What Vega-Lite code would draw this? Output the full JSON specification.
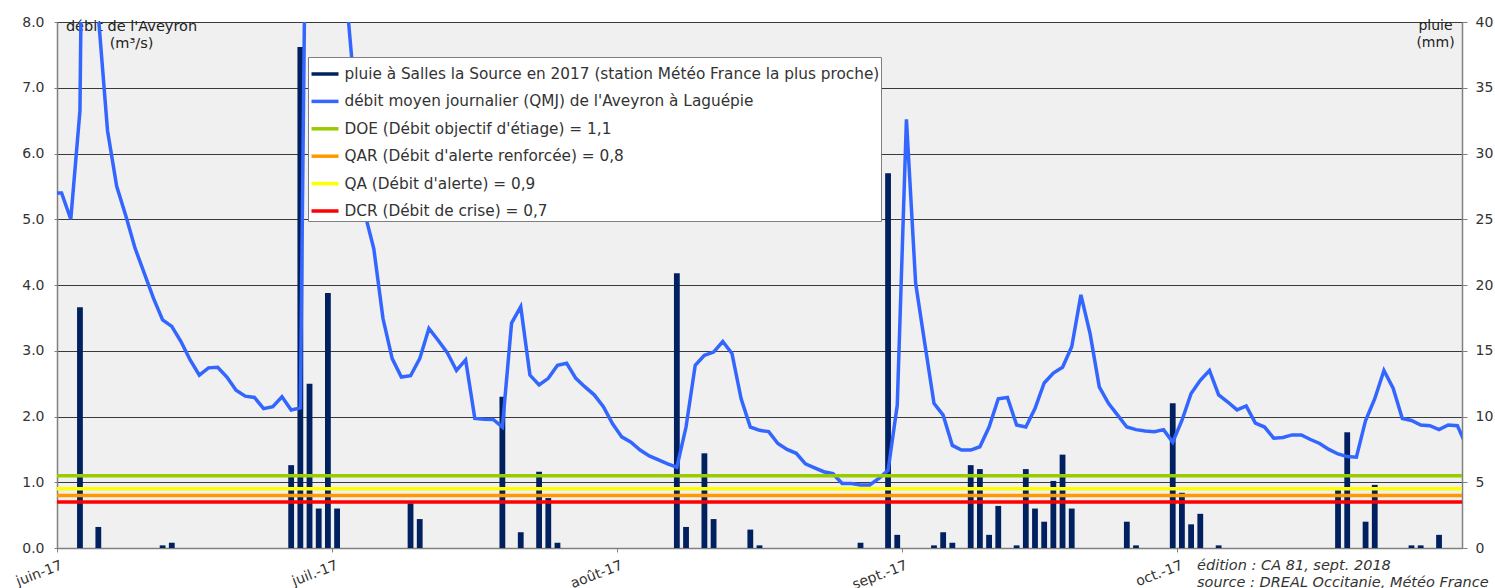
{
  "$schema": "https://vega.github.io/schema/vega-lite/v6.json",
  "width": 1405,
  "height": 526,
  "autosize": {"type": "none"},
  "padding": {"left": 57, "top": 22, "right": 33, "bottom": 40},
  "background": "white",
  "config": {
    "font": "DejaVu Sans",
    "view": {"fill": "#f0f0f0", "stroke": "#808080", "strokeWidth": 1}
  },
  "datasets": {
    "pluie": [
      {"date": "2017-06-03", "mm": 18.3}, {"date": "2017-06-05", "mm": 1.6}, {"date": "2017-06-12", "mm": 0.2}, {"date": "2017-06-13", "mm": 0.4},
      {"date": "2017-06-26", "mm": 6.3}, {"date": "2017-06-27", "mm": 38.1}, {"date": "2017-06-28", "mm": 12.5}, {"date": "2017-06-29", "mm": 3.0},
      {"date": "2017-06-30", "mm": 19.4}, {"date": "2017-07-01", "mm": 3.0}, {"date": "2017-07-09", "mm": 3.4}, {"date": "2017-07-10", "mm": 2.2},
      {"date": "2017-07-19", "mm": 11.5}, {"date": "2017-07-21", "mm": 1.2}, {"date": "2017-07-23", "mm": 5.8}, {"date": "2017-07-24", "mm": 3.8},
      {"date": "2017-07-25", "mm": 0.4}, {"date": "2017-08-07", "mm": 20.9}, {"date": "2017-08-08", "mm": 1.6}, {"date": "2017-08-10", "mm": 7.2},
      {"date": "2017-08-11", "mm": 2.2}, {"date": "2017-08-15", "mm": 1.4}, {"date": "2017-08-16", "mm": 0.2}, {"date": "2017-08-27", "mm": 0.4},
      {"date": "2017-08-30", "mm": 28.5}, {"date": "2017-08-31", "mm": 1.0}, {"date": "2017-09-04", "mm": 0.2}, {"date": "2017-09-05", "mm": 1.2},
      {"date": "2017-09-06", "mm": 0.4}, {"date": "2017-09-08", "mm": 6.3}, {"date": "2017-09-09", "mm": 6.0}, {"date": "2017-09-10", "mm": 1.0},
      {"date": "2017-09-11", "mm": 3.2}, {"date": "2017-09-13", "mm": 0.2}, {"date": "2017-09-14", "mm": 6.0}, {"date": "2017-09-15", "mm": 3.0},
      {"date": "2017-09-16", "mm": 2.0}, {"date": "2017-09-17", "mm": 5.1}, {"date": "2017-09-18", "mm": 7.1}, {"date": "2017-09-19", "mm": 3.0},
      {"date": "2017-09-25", "mm": 2.0}, {"date": "2017-09-26", "mm": 0.2}, {"date": "2017-09-30", "mm": 11.0}, {"date": "2017-10-01", "mm": 4.2},
      {"date": "2017-10-02", "mm": 1.8}, {"date": "2017-10-03", "mm": 2.6}, {"date": "2017-10-05", "mm": 0.2}, {"date": "2017-10-18", "mm": 4.4},
      {"date": "2017-10-19", "mm": 8.8}, {"date": "2017-10-21", "mm": 2.0}, {"date": "2017-10-22", "mm": 4.8}, {"date": "2017-10-26", "mm": 0.2},
      {"date": "2017-10-27", "mm": 0.2}, {"date": "2017-10-29", "mm": 1.0}
    ],
    "debit": [
      {"date": "2017-05-31", "qmj": 5.4}, {"date": "2017-06-01", "qmj": 5.4}, {"date": "2017-06-02", "qmj": 5.0}, {"date": "2017-06-03", "qmj": 6.65},
      {"date": "2017-06-04", "qmj": 20}, {"date": "2017-06-05", "qmj": 8.1}, {"date": "2017-06-06", "qmj": 6.35}, {"date": "2017-06-07", "qmj": 5.5},
      {"date": "2017-06-08", "qmj": 5.05}, {"date": "2017-06-09", "qmj": 4.56}, {"date": "2017-06-10", "qmj": 4.18}, {"date": "2017-06-11", "qmj": 3.8},
      {"date": "2017-06-12", "qmj": 3.47}, {"date": "2017-06-13", "qmj": 3.37}, {"date": "2017-06-14", "qmj": 3.14}, {"date": "2017-06-15", "qmj": 2.86},
      {"date": "2017-06-16", "qmj": 2.63}, {"date": "2017-06-17", "qmj": 2.74}, {"date": "2017-06-18", "qmj": 2.75}, {"date": "2017-06-19", "qmj": 2.6},
      {"date": "2017-06-20", "qmj": 2.4}, {"date": "2017-06-21", "qmj": 2.31}, {"date": "2017-06-22", "qmj": 2.29}, {"date": "2017-06-23", "qmj": 2.12},
      {"date": "2017-06-24", "qmj": 2.15}, {"date": "2017-06-25", "qmj": 2.3}, {"date": "2017-06-26", "qmj": 2.1}, {"date": "2017-06-27", "qmj": 2.13},
      {"date": "2017-06-28", "qmj": 15.5}, {"date": "2017-06-29", "qmj": 13}, {"date": "2017-06-30", "qmj": 10.5}, {"date": "2017-07-01", "qmj": 9.3},
      {"date": "2017-07-02", "qmj": 8.4}, {"date": "2017-07-03", "qmj": 6.8}, {"date": "2017-07-04", "qmj": 5.1}, {"date": "2017-07-05", "qmj": 4.55},
      {"date": "2017-07-06", "qmj": 3.49}, {"date": "2017-07-07", "qmj": 2.88}, {"date": "2017-07-08", "qmj": 2.6}, {"date": "2017-07-09", "qmj": 2.62},
      {"date": "2017-07-10", "qmj": 2.88}, {"date": "2017-07-11", "qmj": 3.34}, {"date": "2017-07-12", "qmj": 3.16}, {"date": "2017-07-13", "qmj": 2.97},
      {"date": "2017-07-14", "qmj": 2.7}, {"date": "2017-07-15", "qmj": 2.86}, {"date": "2017-07-16", "qmj": 1.97}, {"date": "2017-07-17", "qmj": 1.96},
      {"date": "2017-07-18", "qmj": 1.955}, {"date": "2017-07-19", "qmj": 1.84}, {"date": "2017-07-20", "qmj": 3.42}, {"date": "2017-07-21", "qmj": 3.67},
      {"date": "2017-07-22", "qmj": 2.63}, {"date": "2017-07-23", "qmj": 2.48}, {"date": "2017-07-24", "qmj": 2.58}, {"date": "2017-07-25", "qmj": 2.78},
      {"date": "2017-07-26", "qmj": 2.81}, {"date": "2017-07-27", "qmj": 2.58}, {"date": "2017-07-28", "qmj": 2.45}, {"date": "2017-07-29", "qmj": 2.33},
      {"date": "2017-07-30", "qmj": 2.15}, {"date": "2017-07-31", "qmj": 1.89}, {"date": "2017-08-01", "qmj": 1.69}, {"date": "2017-08-02", "qmj": 1.61},
      {"date": "2017-08-03", "qmj": 1.49}, {"date": "2017-08-04", "qmj": 1.4}, {"date": "2017-08-05", "qmj": 1.34}, {"date": "2017-08-06", "qmj": 1.28},
      {"date": "2017-08-07", "qmj": 1.23}, {"date": "2017-08-08", "qmj": 1.84}, {"date": "2017-08-09", "qmj": 2.78}, {"date": "2017-08-10", "qmj": 2.93},
      {"date": "2017-08-11", "qmj": 2.98}, {"date": "2017-08-12", "qmj": 3.14}, {"date": "2017-08-13", "qmj": 2.96}, {"date": "2017-08-14", "qmj": 2.27},
      {"date": "2017-08-15", "qmj": 1.84}, {"date": "2017-08-16", "qmj": 1.79}, {"date": "2017-08-17", "qmj": 1.77}, {"date": "2017-08-18", "qmj": 1.59},
      {"date": "2017-08-19", "qmj": 1.5}, {"date": "2017-08-20", "qmj": 1.44}, {"date": "2017-08-21", "qmj": 1.28}, {"date": "2017-08-22", "qmj": 1.22},
      {"date": "2017-08-23", "qmj": 1.16}, {"date": "2017-08-24", "qmj": 1.13}, {"date": "2017-08-25", "qmj": 0.98}, {"date": "2017-08-26", "qmj": 0.98},
      {"date": "2017-08-27", "qmj": 0.96}, {"date": "2017-08-28", "qmj": 0.96}, {"date": "2017-08-29", "qmj": 1.06}, {"date": "2017-08-30", "qmj": 1.18},
      {"date": "2017-08-31", "qmj": 2.17}, {"date": "2017-09-01", "qmj": 6.52}, {"date": "2017-09-02", "qmj": 4.03}, {"date": "2017-09-03", "qmj": 3.11},
      {"date": "2017-09-04", "qmj": 2.2}, {"date": "2017-09-05", "qmj": 2.02}, {"date": "2017-09-06", "qmj": 1.56}, {"date": "2017-09-07", "qmj": 1.49},
      {"date": "2017-09-08", "qmj": 1.49}, {"date": "2017-09-09", "qmj": 1.54}, {"date": "2017-09-10", "qmj": 1.84}, {"date": "2017-09-11", "qmj": 2.27},
      {"date": "2017-09-12", "qmj": 2.29}, {"date": "2017-09-13", "qmj": 1.87}, {"date": "2017-09-14", "qmj": 1.84}, {"date": "2017-09-15", "qmj": 2.12},
      {"date": "2017-09-16", "qmj": 2.51}, {"date": "2017-09-17", "qmj": 2.66}, {"date": "2017-09-18", "qmj": 2.75}, {"date": "2017-09-19", "qmj": 3.06},
      {"date": "2017-09-20", "qmj": 3.85}, {"date": "2017-09-21", "qmj": 3.26}, {"date": "2017-09-22", "qmj": 2.45}, {"date": "2017-09-23", "qmj": 2.2},
      {"date": "2017-09-24", "qmj": 2.02}, {"date": "2017-09-25", "qmj": 1.84}, {"date": "2017-09-26", "qmj": 1.8}, {"date": "2017-09-27", "qmj": 1.78},
      {"date": "2017-09-28", "qmj": 1.77}, {"date": "2017-09-29", "qmj": 1.8}, {"date": "2017-09-30", "qmj": 1.61}, {"date": "2017-10-01", "qmj": 1.94},
      {"date": "2017-10-02", "qmj": 2.35}, {"date": "2017-10-03", "qmj": 2.55}, {"date": "2017-10-04", "qmj": 2.7}, {"date": "2017-10-05", "qmj": 2.33},
      {"date": "2017-10-06", "qmj": 2.22}, {"date": "2017-10-07", "qmj": 2.1}, {"date": "2017-10-08", "qmj": 2.16}, {"date": "2017-10-09", "qmj": 1.9},
      {"date": "2017-10-10", "qmj": 1.84}, {"date": "2017-10-11", "qmj": 1.67}, {"date": "2017-10-12", "qmj": 1.68}, {"date": "2017-10-13", "qmj": 1.72},
      {"date": "2017-10-14", "qmj": 1.72}, {"date": "2017-10-15", "qmj": 1.65}, {"date": "2017-10-16", "qmj": 1.59}, {"date": "2017-10-17", "qmj": 1.5},
      {"date": "2017-10-18", "qmj": 1.43}, {"date": "2017-10-19", "qmj": 1.39}, {"date": "2017-10-20", "qmj": 1.38}, {"date": "2017-10-21", "qmj": 1.94},
      {"date": "2017-10-22", "qmj": 2.27}, {"date": "2017-10-23", "qmj": 2.7}, {"date": "2017-10-24", "qmj": 2.43}, {"date": "2017-10-25", "qmj": 1.97},
      {"date": "2017-10-26", "qmj": 1.94}, {"date": "2017-10-27", "qmj": 1.87}, {"date": "2017-10-28", "qmj": 1.86}, {"date": "2017-10-29", "qmj": 1.8},
      {"date": "2017-10-30", "qmj": 1.87}, {"date": "2017-10-31", "qmj": 1.86}, {"date": "2017-11-01", "qmj": 1.55}
    ],
    "seuils": [
      {"seuil": "DOE (Débit objectif d'étiage) = 1,1", "valeur": 1.1},
      {"seuil": "QAR (Débit d'alerte renforcée) = 0,8", "valeur": 0.8},
      {"seuil": "QA (Débit d'alerte) = 0,9", "valeur": 0.9},
      {"seuil": "DCR (Débit de crise) = 0,7", "valeur": 0.7}
    ]
  },
  "resolve": {"scale": {"y": "independent"}, "axis": {"y": "independent"}},
  "layer": [
    {
      "data": {"name": "pluie"},
      "mark": {"type": "bar", "size": 5.8},
      "encoding": {
        "x": {
          "field": "date", "type": "temporal", "timeUnit": "utcyearmonthdate", "bandPosition": 0.5,
          "scale": {"type": "utc", "domain": [{"year": 2017, "month": 6, "date": 1, "utc": true}, {"year": 2017, "month": 11, "date": 1, "utc": true}]},
          "axis": {
            "values": [
              {"year": 2017, "month": 6, "date": 1, "utc": true},
              {"year": 2017, "month": 7, "date": 1, "utc": true},
              {"year": 2017, "month": 8, "date": 1, "utc": true},
              {"year": 2017, "month": 9, "date": 1, "utc": true},
              {"year": 2017, "month": 10, "date": 1, "utc": true}
            ],
            "labelExpr": "['janv.','févr.','mars','avr.','mai','juin','juil.','août','sept.','oct.','nov.','déc.'][utcmonth(datum.value)] + '-17'",
            "labelAngle": -21, "labelFontSize": 14, "labelColor": "#333333", "labelPadding": 6, "labelOffset": 2,
            "labelFlush": false, "labelOverlap": false,
            "tickSize": 4, "tickColor": "#808080", "domainColor": "#808080", "domainWidth": 1.5, "grid": false,
            "title": ["édition : CA 81, sept. 2018", "source : DREAL Occitanie, Météo France"],
            "titleX": 1139.5, "titleY": 21.5, "titleAlign": "left", "titleBaseline": "alphabetic", "titleAngle": 0,
            "titleFontStyle": "italic", "titleFontWeight": "normal", "titleFontSize": 14.5, "titleLineHeight": 16.5, "titleColor": "#333333"
          }
        },
        "y": {
          "field": "mm", "type": "quantitative",
          "scale": {"domain": [0, 40]},
          "axis": {
            "orient": "right", "values": [0, 5, 10, 15, 20, 25, 30, 35, 40], "grid": false,
            "labelFontSize": 14, "labelColor": "#333333", "labelPadding": 8,
            "tickSize": 5, "tickColor": "#808080", "domainColor": "#808080", "domainWidth": 1.5,
            "title": ["pluie", "(mm)"], "titleAngle": 0, "titleX": -27, "titleY": 7, "titleAlign": "center", "titleBaseline": "alphabetic",
            "titleFontWeight": "normal", "titleFontSize": 14, "titleLineHeight": 17, "titleColor": "#222222"
          }
        },
        "color": {"datum": "pluie à Salles la Source en 2017 (station Météo France la plus proche)", "type": "nominal", "title": null}
      }
    },
    {
      "layer": [
        {
          "data": {"name": "debit"},
          "mark": {"type": "line", "strokeWidth": 3.5, "clip": true},
          "encoding": {
            "x": {"field": "date", "type": "temporal", "timeUnit": "utcyearmonthdate", "bandPosition": 0.5},
            "y": {
              "field": "qmj", "type": "quantitative",
              "scale": {"domain": [0, 8]},
              "axis": {
                "orient": "left", "values": [0, 1, 2, 3, 4, 5, 6, 7, 8], "format": ".1f",
                "grid": true, "gridColor": "#3a3a3a", "gridWidth": 1,
                "labelFontSize": 14, "labelColor": "#333333", "labelPadding": 10,
                "tickSize": 3, "tickColor": "#808080", "domainColor": "#808080", "domainWidth": 1.5,
                "title": ["débit de l'Aveyron", "(m³/s)"], "titleAngle": 0, "titleX": 74, "titleY": 8, "titleAlign": "center", "titleBaseline": "alphabetic",
                "titleFontWeight": "normal", "titleFontSize": 14.5, "titleLineHeight": 17, "titleColor": "#222222"
              }
            },
            "color": {"datum": "débit moyen journalier (QMJ) de l'Aveyron à Laguépie", "type": "nominal", "title": null}
          }
        },
        {
          "data": {"name": "seuils"},
          "mark": {"type": "rule", "strokeWidth": 3.5},
          "encoding": {
            "y": {"field": "valeur", "type": "quantitative"},
            "color": {
              "field": "seuil", "type": "nominal", "title": null,
              "scale": {
                "domain": [
                  "pluie à Salles la Source en 2017 (station Météo France la plus proche)",
                  "débit moyen journalier (QMJ) de l'Aveyron à Laguépie",
                  "DOE (Débit objectif d'étiage) = 1,1",
                  "QAR (Débit d'alerte renforcée) = 0,8",
                  "QA (Débit d'alerte) = 0,9",
                  "DCR (Débit de crise) = 0,7"
                ],
                "range": ["#002060", "#3366ff", "#99cc00", "#ff9900", "#ffff00", "#ff0000"]
              },
              "legend": {
                "title": null, "orient": "none", "legendX": 251, "legendY": 35,
                "fillColor": "white", "strokeColor": "#7f7f7f", "padding": 1.5,
                "labelFont": "DejaVu Sans", "labelFontSize": 15.3, "labelColor": "#333333", "labelLimit": 0, "labelOffset": 4,
                "symbolSize": 729, "symbolStrokeWidth": 3.5, "rowPadding": 3.4, "symbolType": "stroke"
              }
            }
          }
        }
      ]
    }
  ]
}
